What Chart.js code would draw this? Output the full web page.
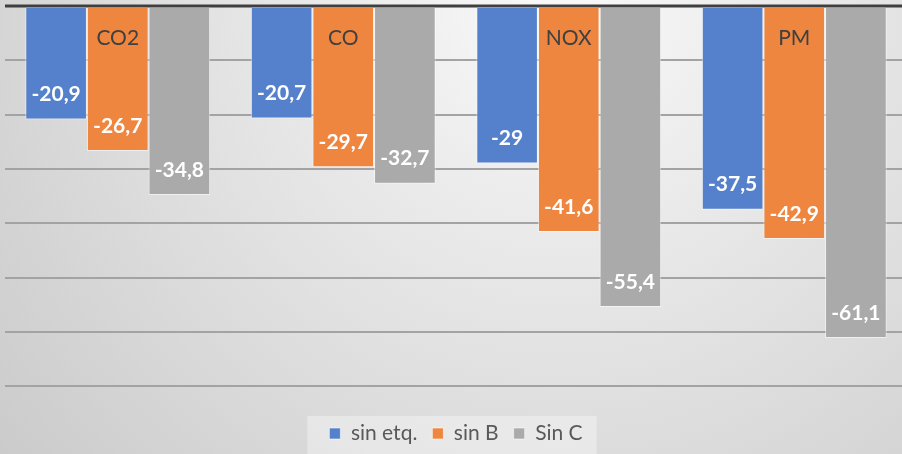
<!DOCTYPE html>
<html>
<head>
<meta charset="utf-8">
<script src="https://cdn.jsdelivr.net/npm/chart.js@4.4.1/dist/chart.umd.min.js"></script>
<style>
  html, body { margin: 0; padding: 0; overflow: hidden; width: 902px; height: 454px; }
  #wrap { position: absolute; left: 0; top: 0; }
</style>
</head>
<body>
<div id="wrap"><canvas id="chart" width="912" height="454"></canvas></div>
<script>
// datos del grafico
const categories = ['CO2', 'CO', 'NOX', 'PM']
const seriesNames = ['sin etq.', 'sin B', 'Sin C']
const sinEtq = [-20.9, -20.7, -29, -37.5]
const sinB = [-26.7, -29.7, -41.6, -42.9]
const sinC = [-34.8, -32.7, -55.4, -61.1]
const colors = ['#5580cb', '#ee8640', '#aaaaaa']

const fontFam = 'Lato, "Open Sans", sans-serif'

//! fondo con degradado gris
const bgPlugin = {
  id: 'bg',
  beforeDraw(chart) {
    const ctx = chart.ctx
    const g = ctx.createRadialGradient(560, 0, 20, 560, 0, 720)
    g.addColorStop(0, '#f8f8f8')
    g.addColorStop(1, '#cbcbcb')
    ctx.save()
    ctx.fillStyle = g
    ctx.fillRect(0, 0, chart.width, chart.height)
    // caja de la leyenda
    const boxes = chart.legend.legendHitBoxes
    if (boxes && boxes.length) {
      const l = boxes[0].left - 22
      const r = boxes[boxes.length - 1].left + boxes[boxes.length - 1].width + 14
      ctx.fillStyle = 'rgba(255,255,255,0.35)'
      ctx.fillRect(l, chart.legend.top + 8, r - l, chart.height - chart.legend.top)
    }
    ctx.restore()
  }
}

//! linea del cero, etiquetas de categoria y de valores
const labelsPlugin = {
  id: 'labels',
  afterDatasetsDraw(chart) {
    const ctx = chart.ctx
    const area = chart.chartArea
    const y0 = chart.scales.y.getPixelForValue(0)
    ctx.save()
    ctx.strokeStyle = '#3f3f3f'
    ctx.lineWidth = 3
    ctx.beginPath()
    ctx.moveTo(area.left, y0)
    ctx.lineTo(area.right, y0)
    ctx.stroke()

    ctx.textAlign = 'center'
    ctx.textBaseline = 'middle'
    ctx.fillStyle = '#404040'
    ctx.font = '21px ' + fontFam
    categories.forEach((c, i) => {
      ctx.fillText(c, chart.scales.x.getPixelForValue(i), y0 + 32)
    })

    ctx.fillStyle = '#ffffff'
    ctx.font = 'bold 21px ' + fontFam
    chart.data.datasets.forEach((ds, di) => {
      chart.getDatasetMeta(di).data.forEach((bar, i) => {
        const txt = String(ds.data[i]).replace('.', ',')
        ctx.fillText(txt, bar.x, bar.y - 25)
      })
    })
    ctx.restore()
  }
}

new Chart(document.getElementById('chart').getContext('2d'), {
  type: 'bar',
  data: {
    labels: categories,
    datasets: [sinEtq, sinB, sinC].map((d, i) => ({
      label: seriesNames[i],
      data: d,
      backgroundColor: colors[i],
      borderColor: 'rgba(255,255,255,0.55)',
      borderWidth: 1,
      borderSkipped: false,
      categoryPercentage: 0.82,
      barPercentage: 1
    }))
  },
  options: {
    responsive: false,
    animation: false,
    layout: { padding: { left: 5, right: 5, top: 6, bottom: 0 } },
    plugins: {
      tooltip: { enabled: false },
      legend: {
        position: 'bottom',
        labels: {
          boxWidth: 11,
          boxHeight: 11,
          padding: 15,
          color: '#595959',
          font: { size: 21, family: fontFam }
        }
      }
    },
    scales: {
      x: { display: false },
      y: {
        min: -74,
        max: 0,
        ticks: { display: false, stepSize: 10 },
        border: { display: false },
        grid: {
          drawTicks: false,
          lineWidth: 2,
          color: c => (c.tick.value % 10 === 0 && c.tick.value !== 0) ? '#a3a3a3' : 'rgba(0,0,0,0)'
        }
      }
    }
  },
  plugins: [bgPlugin, labelsPlugin]
})
</script>
</body>
</html>
